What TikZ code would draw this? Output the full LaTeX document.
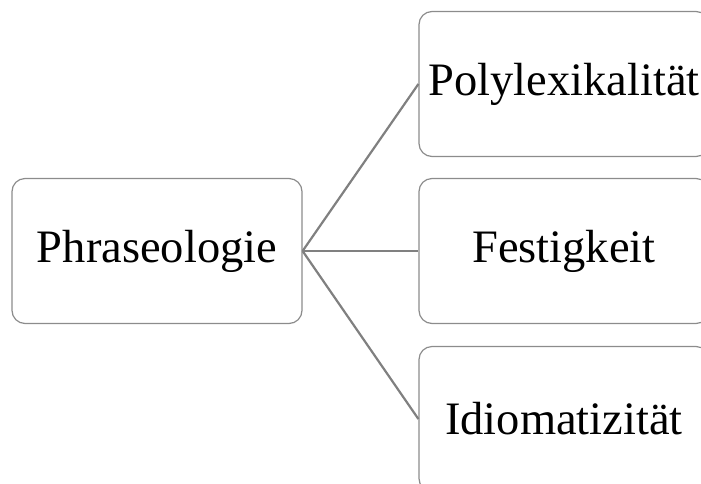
\documentclass[tikz,border=0pt]{standalone}
\usepackage{fontspec}
\setmainfont{Liberation Serif}
\begin{document}
\begin{tikzpicture}[x=1pt,y=-1pt,
  box/.style={draw=black!45, line width=1.2pt, rounded corners=13pt, fill=white,
    minimum width=290pt, minimum height=145pt, inner sep=0pt, font=\fontsize{46.5}{52}\selectfont},
  link/.style={draw=black!50, line width=2.2pt}]
\useasboundingbox (0,0) rectangle (701,483);
\clip (0,0) rectangle (701,483);
\node[box] (ph) at (157,251) {Phraseologie};
\node[box] (po) at (564,84) {Polylexikalität};
\node[box] (fe) at (564,251) {Festigkeit};
\node[box] (id) at (564,419) {Idiomatizität};
\draw[link] (ph.east) -- (po.west);
\draw[link] (ph.east) -- (fe.west);
\draw[link] (ph.east) -- (id.west);
\end{tikzpicture}
\end{document}
